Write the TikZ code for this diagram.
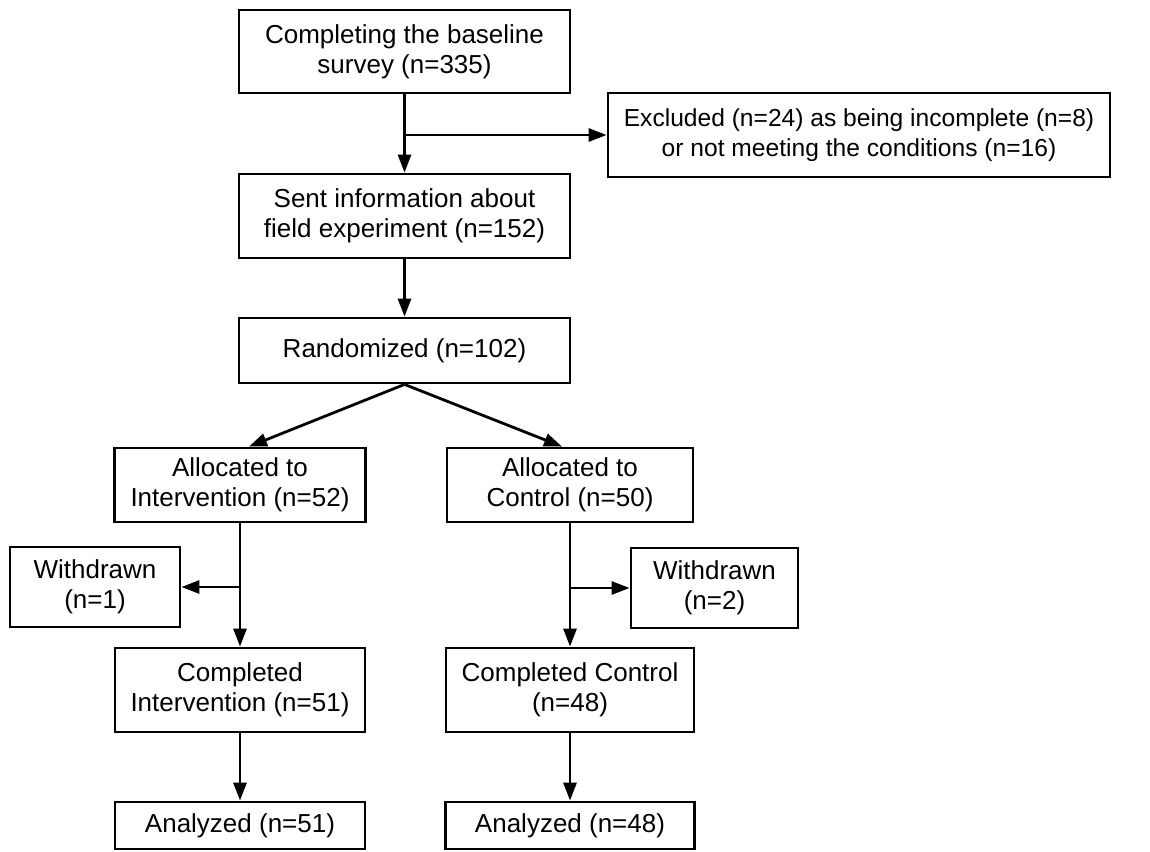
\documentclass[tikz,border=0pt]{standalone}
\usepackage{fontspec}
\setmainfont{Liberation Sans}
\usetikzlibrary{arrows.meta,calc}

\begin{document}
\begin{tikzpicture}[x=0.5pt,y=-0.5pt,
  box/.style={draw=black, line width=1.4pt, align=center, inner sep=0pt,
    font=\fontsize{13pt}{15pt}\selectfont},
  flow/.style={line width=1.4pt, -{Triangle[length=9pt,width=6.5pt]}},
  link/.style={line width=1.4pt}]
\useasboundingbox (0,0) rectangle (1150,851);

% main column
\node[box, minimum width=165.5pt, minimum height=41.5pt] (base) at (404.5,51.5)
  {Completing the baseline\\survey (n=335)};
\node[box, minimum width=251pt, minimum height=42pt,
  font=\fontsize{12.3pt}{15pt}\selectfont] (excl) at (859,135)
  {Excluded (n=24) as being incomplete (n=8)\\or not meeting the conditions (n=16)};
\node[box, minimum width=165.5pt, minimum height=42pt] (sent) at (404.5,216)
  {Sent information about\\field experiment (n=152)};
\node[box, minimum width=165.5pt, minimum height=32.5pt] (rand) at (404.5,350.5)
  {Randomized (n=102)};

% intervention arm
\node[box, minimum width=125.5pt, minimum height=37pt] (alint) at (240,485)
  {Allocated to\\Intervention (n=52)};
\node[box, minimum width=85pt, minimum height=40pt] (wdint) at (95,587)
  {Withdrawn\\(n=1)};
\node[box, minimum width=125pt, minimum height=42pt] (coint) at (240,690)
  {Completed\\Intervention (n=51)};
\node[box, minimum width=125pt, minimum height=23.5pt] (anint) at (240,825.5)
  {Analyzed (n=51)};

% control arm
\node[box, minimum width=123pt, minimum height=37pt] (alctl) at (570,485)
  {Allocated to\\Control (n=50)};
\node[box, minimum width=83.5pt, minimum height=40pt] (wdctl) at (714.5,588)
  {Withdrawn\\(n=2)};
\node[box, minimum width=124pt, minimum height=42pt] (coctl) at (570,690)
  {Completed Control\\(n=48)};
\node[box, minimum width=124.5pt, minimum height=23.5pt] (anctl) at (570,825.5)
  {Analyzed (n=48)};

% branch points
\coordinate (brexcl) at (base.south |- excl.west);
\coordinate (brint) at (alint.south |- wdint.east);
\coordinate (brctl) at (alctl.south |- wdctl.west);

% connectors
\draw[flow] (base.south) -- (sent.north);
\draw[flow] (brexcl) -- (excl.west);
\draw[flow] (sent.south) -- (rand.north);
\draw[flow] (rand.south) -- ($(alint.north)+(9,0)$);
\draw[flow] (rand.south) -- ($(alctl.north)+(-8,0)$);
\draw[flow] (alint.south) -- (coint.north);
\draw[flow] (brint) -- (wdint.east);
\draw[flow] (alctl.south) -- (coctl.north);
\draw[flow] (brctl) -- (wdctl.west);
\draw[flow] (coint.south) -- (anint.north);
\draw[flow] (coctl.south) -- (anctl.north);
\end{tikzpicture}
\end{document}
